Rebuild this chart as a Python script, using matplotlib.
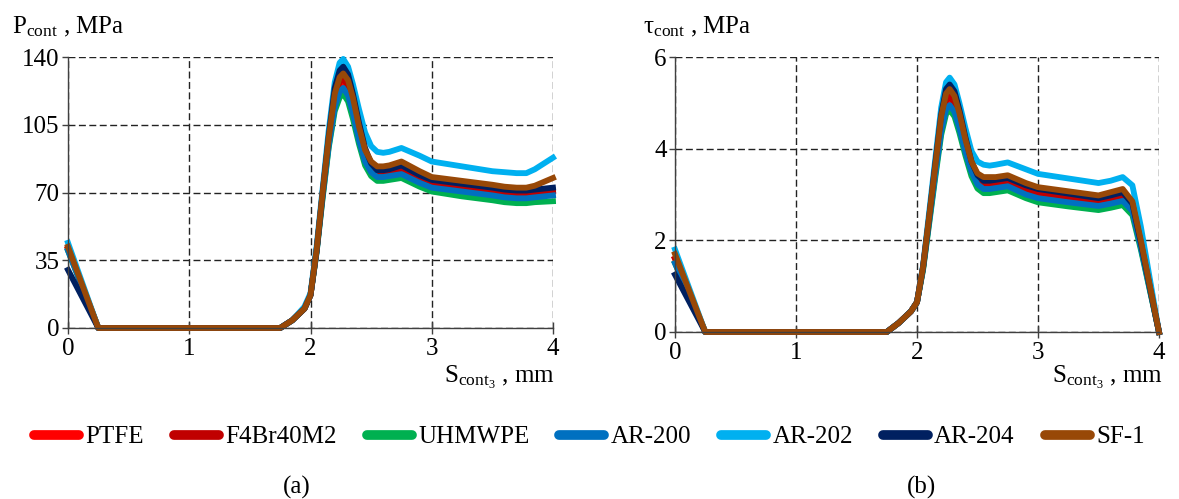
import numpy as np
import matplotlib
matplotlib.use("Agg")
import matplotlib.pyplot as plt

plt.rcParams['font.family'] = ['Liberation Serif', 'DejaVu Serif']
plt.rcParams['mathtext.fontset'] = 'custom'
plt.rcParams['mathtext.rm'] = 'Liberation Serif'
plt.rcParams['mathtext.it'] = 'Liberation Serif:italic'

# data
names = ['PTFE', 'F4Br40M2', 'UHMWPE', 'AR-200', 'AR-202', 'AR-204', 'SF-1']
colors = ['#FF0000', '#C00000', '#00B050', '#0070C0', '#00B0F0', '#002060', '#984807']

s = [0, 0.25, 1.75, 1.85, 1.95, 2.0,
     2.05, 2.1, 2.15, 2.2, 2.24, 2.27, 2.31, 2.35, 2.4, 2.45, 2.5, 2.55, 2.6, 2.65, 2.75,
     2.9, 3.0, 3.25, 3.5, 3.6, 3.7, 3.78, 3.85, 4.0]

# contact pressure, MPa
p_ptfe = [41, 0, 0, 4, 10, 17,
          40, 69, 96, 117, 125, 127, 123, 114, 100, 88, 82, 79.5, 79.5, 80, 81.5,
          77, 74.5, 72.5, 70.5, 69.5, 69, 69, 69.5, 70.5]
p_f4 = [41, 0, 0, 4, 10, 17,
        40, 69, 97, 119, 127, 129, 125, 116, 101, 89, 82.5, 80, 80, 80.5, 82,
        77.5, 75, 73, 71, 70, 69.5, 69.5, 70, 71]
p_uhmwpe = [40, 0, 0, 4, 10, 17,
            39, 67, 93, 112, 119, 121, 117, 108, 95, 84, 78.5, 76, 76, 76.5, 77.5,
            73, 70.5, 68, 66, 65, 64.5, 64.5, 65, 65.5]
p_ar200 = [40, 0, 0, 4, 10, 17,
           39, 68, 94, 114, 122, 124, 120, 111, 97, 86, 80.5, 78, 78, 78.5, 79.5,
           75, 72.5, 70.5, 68.5, 67.5, 67, 67, 67.5, 68.5]
p_ar202 = [44, 0, 0, 4, 11, 18,
           42, 72, 102, 127, 137, 139, 135, 126, 113, 101, 94, 91, 90.5, 91, 93,
           89, 86, 83.5, 81, 80.5, 80, 80, 82, 88]
p_ar204 = [30, 0, 0, 4, 10, 17,
           40, 70, 99, 124, 133, 135, 131, 121, 106, 93, 85, 81.5, 81.5, 82, 84,
           79, 76.5, 74.5, 72.5, 71.5, 71, 71, 71.5, 72.5]
p_sf1 = [42, 0, 0, 4, 10, 17,
         40, 70, 98, 121, 129.5, 131.5, 128, 119, 104, 92, 86, 83.5, 83.5, 84, 86,
         81, 78, 76, 74, 73, 72.5, 72.5, 73.5, 77.5]

# contact shear stress, MPa
t_ptfe = [1.6, 0, 0, 0.2, 0.45, 0.65,
          1.4, 2.45, 3.5, 4.5, 5.0, 5.1, 4.95, 4.6, 4.05, 3.6, 3.32, 3.22, 3.22, 3.24, 3.28,
          3.1, 3.02, 2.93, 2.85, 2.9, 2.96, 2.72, 1.9, 0]
t_f4 = [1.6, 0, 0, 0.2, 0.45, 0.65,
        1.4, 2.45, 3.5, 4.55, 5.05, 5.15, 5.0, 4.65, 4.1, 3.62, 3.34, 3.24, 3.24, 3.26, 3.3,
        3.12, 3.04, 2.95, 2.87, 2.92, 2.98, 2.74, 1.9, 0]
t_uhmwpe = [1.5, 0, 0, 0.2, 0.45, 0.65,
            1.35, 2.35, 3.35, 4.3, 4.75, 4.85, 4.7, 4.35, 3.85, 3.4, 3.13, 3.03, 3.03, 3.05, 3.09,
            2.92, 2.83, 2.74, 2.66, 2.71, 2.77, 2.55, 1.8, 0]
t_ar200 = [1.5, 0, 0, 0.2, 0.45, 0.65,
           1.38, 2.4, 3.42, 4.38, 4.85, 4.95, 4.8, 4.45, 3.93, 3.5, 3.22, 3.12, 3.12, 3.14, 3.18,
           3.0, 2.92, 2.83, 2.75, 2.8, 2.86, 2.64, 1.85, 0]
t_ar202 = [1.8, 0, 0, 0.2, 0.45, 0.65,
           1.45, 2.6, 3.75, 4.9, 5.45, 5.55, 5.4, 5.0, 4.45, 3.95, 3.72, 3.65, 3.63, 3.65, 3.7,
           3.55, 3.45, 3.35, 3.25, 3.3, 3.38, 3.2, 2.3, 0]
t_ar204 = [1.25, 0, 0, 0.2, 0.45, 0.65,
           1.42, 2.5, 3.65, 4.75, 5.3, 5.4, 5.25, 4.85, 4.25, 3.72, 3.42, 3.3, 3.3, 3.32, 3.36,
           3.2, 3.12, 3.02, 2.92, 2.98, 3.05, 2.8, 1.95, 0]
t_sf1 = [1.7, 0, 0, 0.2, 0.45, 0.65,
         1.42, 2.5, 3.6, 4.7, 5.2, 5.3, 5.15, 4.78, 4.2, 3.72, 3.46, 3.38, 3.38, 3.38, 3.42,
         3.25, 3.16, 3.07, 2.98, 3.05, 3.12, 2.85, 2.0, 0]

p_all = [p_ptfe, p_f4, p_uhmwpe, p_ar200, p_ar202, p_ar204, p_sf1]
t_all = [t_ptfe, t_f4, t_uhmwpe, t_ar200, t_ar202, t_ar204, t_sf1]

fig = plt.figure(figsize=(11.79, 4.99), dpi=100)
ax1 = fig.add_axes([68/1179, 1-328/499, 485/1179, 271/499])
ax2 = fig.add_axes([675/1179, 1-332/499, 484/1179, 275/499])

def style(ax, yticks):
    ax.set_xlim(0, 4)
    ax.set_ylim(yticks[0], yticks[-1])
    ax.set_xticks([0, 1, 2, 3, 4])
    ax.set_yticks(yticks)
    ax.grid(True, color='#222222', lw=1.0, ls=(0, (5, 2.5)))
    ax.set_axisbelow(True)
    for sp in ['top', 'right']:
        ax.spines[sp].set_visible(False)
    for sp in ['left', 'bottom']:
        ax.spines[sp].set_color('#404040')
        ax.spines[sp].set_linewidth(1.0)
    ax.tick_params(axis='x', direction='inout', length=9, width=1, colors='#404040',
                   labelcolor='black', labelsize=18, pad=3)
    ax.tick_params(axis='y', direction='out', length=4, width=1, colors='#404040',
                   labelcolor='black', labelsize=18, pad=2)

for ys, c, n in zip(p_all, colors, names):
    ax1.plot(s, ys, color=c, lw=4.2, label=n, solid_joinstyle='round', clip_on=False)
for ys, c, n in zip(t_all, colors, names):
    ax2.plot(s, ys, color=c, lw=4.2, label=n, solid_joinstyle='round', clip_on=False)

style(ax1, [0, 35, 70, 105, 140])
style(ax2, [0, 2, 4, 6])

fig.text(12/1179, 1-33/499, r'$\mathregular{P_{cont}}$ , MPa', fontsize=18, va='baseline')
fig.text(643/1179, 1-33/499, r'$\mathregular{τ_{cont}}$ , MPa', fontsize=18, va='baseline')
fig.text(555/1179, 1-383/499, r'$\mathregular{S_{cont_3}}$ , mm', fontsize=18, va='baseline', ha='right')
fig.text(1163/1179, 1-383/499, r'$\mathregular{S_{cont_3}}$ , mm', fontsize=18, va='baseline', ha='right')

handles, labels = ax1.get_legend_handles_labels()
leg = fig.legend(handles, labels, ncol=7, loc='center', bbox_to_anchor=(0.5, 1-437/499),
                 frameon=False, fontsize=18, handlelength=1.8, handletextpad=0.25,
                 columnspacing=1.2)
for h in leg.get_lines():
    h.set_linewidth(7)
    h.set_solid_capstyle('round')

fig.text(297/1179, 1-487/499, '(a)', fontsize=18, ha='center', va='center')
fig.text(921/1179, 1-487/499, '(b)', fontsize=18, ha='center', va='center')

fig.savefig('out.png', dpi=100)
